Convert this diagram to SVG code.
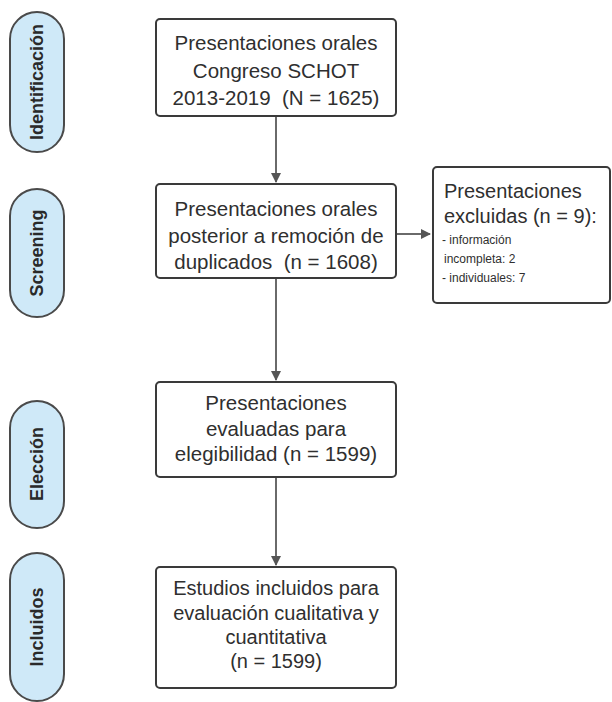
<svg xmlns="http://www.w3.org/2000/svg" width="612" height="702" viewBox="0 0 612 702">
<defs>
<style>
text{white-space:pre}
.pill{fill:#cfe9f8;stroke:#4a4a4a;stroke-width:2}
.pt{font-family:"Liberation Sans",Arial,sans-serif;font-weight:bold;font-size:18px;fill:#2a2a2a;text-anchor:middle}
.box{fill:#ffffff;stroke:#3a3a3a;stroke-width:2}
.t{font-family:"Liberation Sans",Arial,sans-serif;font-size:20.5px;fill:#2f2f2f;text-anchor:middle}
.ts{font-family:"Liberation Sans",Arial,sans-serif;font-size:20px;fill:#2f2f2f}
.tss{font-family:"Liberation Sans",Arial,sans-serif;font-size:12px;fill:#2f2f2f}
.c{stroke:#6a6a6a;stroke-width:2;fill:none;marker-end:url(#ah)}
</style>
<marker id="ah" viewBox="0 0 10 10" refX="9" refY="5" markerWidth="5" markerHeight="5" orient="auto" markerUnits="strokeWidth">
<path d="M0,0 L10,5 L0,10 z" fill="#555"/>
</marker>
</defs>
<rect width="612" height="702" fill="#ffffff"/>

<g id="stage-identificacion">
<rect class="pill" x="10" y="12" width="54" height="140" rx="27"/>
<text class="pt" transform="translate(43,82) rotate(-90)">Identificación</text>
</g>
<g id="stage-screening">
<rect class="pill" x="10" y="189" width="54" height="128" rx="27"/>
<text class="pt" transform="translate(43,253) rotate(-90)">Screening</text>
</g>
<g id="stage-eleccion">
<rect class="pill" x="10" y="401" width="54" height="127" rx="27"/>
<text class="pt" transform="translate(43,464) rotate(-90)">Elección</text>
</g>
<g id="stage-incluidos">
<rect class="pill" x="10" y="553" width="54" height="148" rx="27"/>
<text class="pt" transform="translate(43,627) rotate(-90)">Incluidos</text>
</g>

<g id="connectors">
<line class="c" x1="276" y1="117" x2="276" y2="182"/>
<line class="c" x1="396" y1="234" x2="430" y2="234"/>
<line class="c" x1="276" y1="279" x2="276" y2="380"/>
<line class="c" x1="276" y1="478" x2="276" y2="565"/>
</g>

<g id="box-identificacion">
<rect class="box" x="156" y="19" width="240" height="97" rx="4"/>
<text class="t" x="276" y="50">Presentaciones orales</text>
<text class="t" x="276" y="78">Congreso SCHOT</text>
<text class="t" x="276" y="105">2013-2019  (N = 1625)</text>
</g>

<g id="box-screening">
<rect class="box" x="156" y="184" width="240" height="94" rx="4"/>
<text class="t" x="276" y="216">Presentaciones orales</text>
<text class="t" x="276" y="243">posterior a remoción de</text>
<text class="t" x="276" y="269">duplicados  (n = 1608)</text>
</g>

<g id="box-excluidas">
<rect class="box" x="433" y="167" width="177" height="136" rx="4"/>
<text class="ts" x="444" y="198">Presentaciones</text>
<text class="ts" x="444" y="223">excluidas (n = 9):</text>
<text class="tss" x="442" y="244">- información</text>
<text class="tss" x="444" y="263">incompleta: 2</text>
<text class="tss" x="442" y="282">- individuales: 7</text>
</g>

<g id="box-eleccion">
<rect class="box" x="156" y="382" width="240" height="95" rx="4"/>
<text class="t" x="276" y="410">Presentaciones</text>
<text class="t" x="276" y="436">evaluadas para</text>
<text class="t" x="276" y="461">elegibilidad (n = 1599)</text>
</g>

<g id="box-incluidos">
<rect class="box" x="156" y="567" width="240" height="121" rx="4"/>
<text class="t" x="276" y="595" style="font-size:20px">Estudios incluidos para</text>
<text class="t" x="276" y="620" style="font-size:20px">evaluación cualitativa y</text>
<text class="t" x="276" y="644" style="font-size:20px">cuantitativa</text>
<text class="t" x="276" y="668" style="font-size:20px">(n = 1599)</text>
</g>
</svg>
